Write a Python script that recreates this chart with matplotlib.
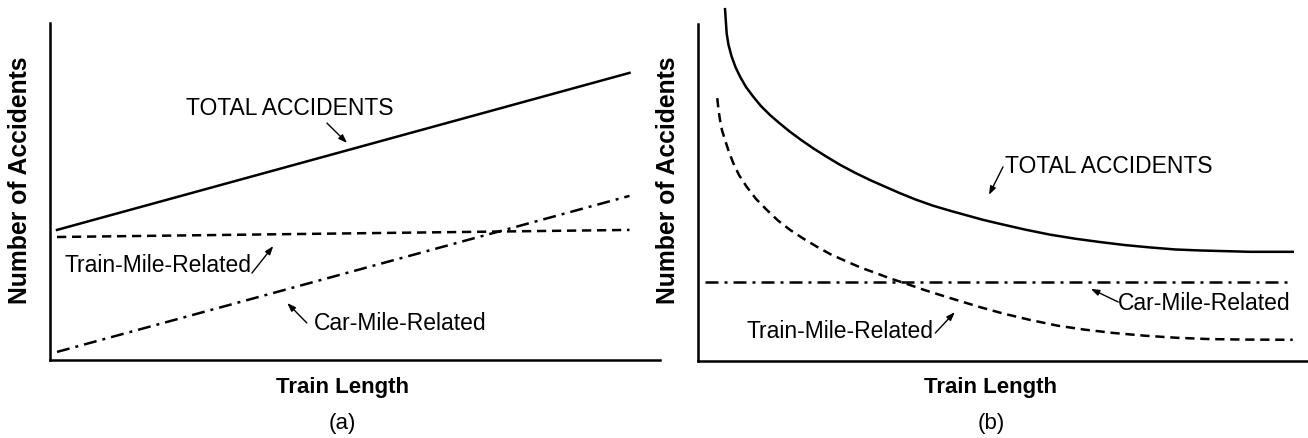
import matplotlib
matplotlib.use("Agg")
import matplotlib.pyplot as plt

plt.rcParams["font.family"] = ["Liberation Sans", "DejaVu Sans"]

# panel (a): straight lines, read at both ends
a_x = [1.15, 95.0]
a_total = [38.6, 85.2]
a_train = [36.5, 38.6]
a_car = [2.4, 48.7]

# panel (b): curves
b_total_x = [4.43, 4.70, 5.0, 5.52, 6.15, 6.89, 7.87, 9.07, 10.3, 11.8, 13.4,
             15.1, 16.9, 18.9, 21.0, 23.3, 25.7, 28.2, 30.7, 33.1, 35.7, 38.5,
             41.3, 44.1, 46.7, 49.5, 53.6, 57.7, 61.8, 65.9, 70.0, 74.1, 78.2,
             82.3, 90.5, 97.5]
b_total_y = [104.4, 97.2, 93.8, 90.3, 87.2, 84.4, 81.3, 78.4, 75.7, 73.0, 70.5,
             68.0, 65.6, 63.1, 60.7, 58.2, 55.9, 53.7, 51.7, 49.8, 47.9, 46.1,
             44.6, 43.2, 41.9, 40.7, 39.0, 37.5, 36.3, 35.3, 34.4, 33.7, 33.1,
             32.8, 32.4, 32.4]
b_train_x = [3.16, 3.36, 3.61, 3.93, 4.43, 5.08, 5.79, 6.72, 7.98, 9.51, 11.3,
             13.1, 15.1, 17.2, 19.5, 21.8, 24.4, 26.7, 29.3, 31.5, 33.7, 37.4,
             41.3, 46.2, 50.0, 54.4, 58.9, 63.4, 68.2, 73.3, 78.4, 83.9, 90.0,
             97.5]
b_train_y = [78.0, 74.5, 71.5, 68.5, 65.6, 62.0, 58.7, 55.2, 51.7, 48.1, 44.8,
             41.7, 38.9, 36.4, 33.9, 31.6, 29.5, 27.7, 26.0, 24.5, 23.2, 20.9,
             18.7, 16.0, 14.1, 12.2, 10.5, 9.3, 8.3, 7.5, 6.9, 6.5, 6.35, 6.3]
b_car_x = [1.15, 97.5]
b_car_y = [23.3, 23.3]

W, H = 1308, 438
LW = 1.8
DASHED = (0, (3.7, 2.3))
DASHDOT = (0, (5.2, 2.4, 1.2, 2.4))
FS = 16.5

fig = plt.figure(figsize=(W / 100, H / 100), dpi=100)


def make_axes(left, top, right, bottom):
    ax = fig.add_axes([left / W, 1 - bottom / H, (right - left) / W, (bottom - top) / H])
    ax.set_xlim(0, 100)
    ax.set_ylim(0, 100)
    for side in ("top", "right"):
        ax.spines[side].set_visible(False)
    for side in ("left", "bottom"):
        ax.spines[side].set_linewidth(1.8)
    ax.set_xticks([])
    ax.set_yticks([])
    return ax


def label(ax, text, tx, ty, tail, head):
    ax.text(tx, ty, text, ha="center", va="baseline", fontsize=FS)
    ax.annotate("", xy=head, xytext=tail,
                arrowprops=dict(arrowstyle="-|>,head_length=0.5,head_width=0.18",
                                color="black", lw=1.0, shrinkA=0, shrinkB=0))


ax_a = make_axes(50, 23, 660, 360)
ax_a.plot(a_x, a_total, color="black", lw=LW)
ax_a.plot(a_x, a_train, color="black", lw=LW, linestyle=DASHED)
ax_a.plot(a_x, a_car, color="black", lw=LW, linestyle=DASHDOT)
label(ax_a, "TOTAL ACCIDENTS", 39.3, 72.7, (45.4, 70.3), (48.7, 64.4))
label(ax_a, "Train-Mile-Related", 17.7, 26.1, (33.1, 25.8), (36.6, 33.8))
label(ax_a, "Car-Mile-Related", 57.4, 8.9, (42.1, 11.0), (38.9, 16.9))

ax_b = make_axes(698, 24, 1308, 361)
ax_b.plot(b_total_x, b_total_y, color="black", lw=LW, clip_on=False)
ax_b.plot(b_train_x, b_train_y, color="black", lw=LW, linestyle=DASHED)
ax_b.plot(b_car_x, b_car_y, color="black", lw=LW, linestyle=DASHDOT)
label(ax_b, "TOTAL ACCIDENTS", 67.4, 55.8, (50.0, 57.6), (47.7, 49.3))
label(ax_b, "Car-Mile-Related", 83.0, 15.1, (68.9, 17.5), (64.4, 21.4))
label(ax_b, "Train-Mile-Related", 23.3, 6.8, (38.9, 8.3), (42.1, 14.5))

# axis titles and panel captions, placed in figure pixels
for cx, ylab_x, tag in ((342, 20, "(a)"), (991, 668, "(b)")):
    fig.text(ylab_x / W, 1 - 180 / H, "Number of Accidents", rotation=90,
             ha="center", va="center", fontsize=17.8, fontweight="bold")
    fig.text(cx / W, 1 - 388 / H, "Train Length", ha="center", va="center",
             fontsize=16, fontweight="bold")
    fig.text(cx / W, 1 - 424 / H, tag, ha="center", va="center", fontsize=16)

fig.savefig("out.png", dpi=100)
